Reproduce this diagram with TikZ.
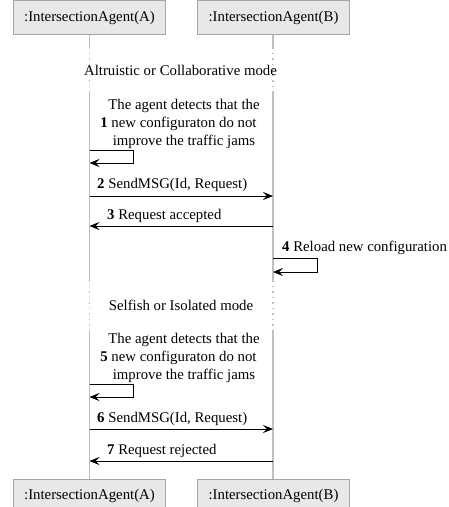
\documentclass[tikz,border=0pt]{standalone}
\usepackage{fontspec}
\setmainfont{Liberation Serif}
\usetikzlibrary{arrows.meta, positioning}
\definecolor{cajaGris}{RGB}{232,232,232}
\definecolor{bordeGris}{RGB}{165,165,165}
\definecolor{vidaGris}{RGB}{192,192,192}

\begin{document}
\begin{tikzpicture}[
    x=1pt, y=-1pt,
    font=\fontsize{14.8}{18}\selectfont,
    agente/.style={draw=bordeGris, fill=cajaGris, minimum width=152pt, minimum height=34pt, inner sep=0pt},
    vida/.style={vidaGris, line width=1.2pt},
    vidaPunto/.style={vidaGris, line width=1.2pt, dash pattern=on 1.5pt off 4pt},
    mensaje/.style={-{Stealth[length=10pt, width=8pt, inset=4pt]}, line width=0.9pt},
    etiqueta/.style={anchor=west, inner sep=0pt},
    nota/.style={align=center, inner sep=0pt}
]
    \useasboundingbox (0,0) rectangle (448,507);

    % --- AGENTES ---
    \node[agente] (agA) at (89.5,17.5) {:IntersectionAgent(A)};
    \node[agente] (agB) at (273.5,17.5) {:IntersectionAgent(B)};
    \node[agente] (agAbajo) at (89.5,496) {:IntersectionAgent(A)};
    \node[agente] (agBbajo) at (273.5,496) {:IntersectionAgent(B)};

    % --- LINEAS DE VIDA ---
    \coordinate (a1) at (89.5,47);  \coordinate (b1) at (273,47);
    \coordinate (a2) at (89.5,93);  \coordinate (b2) at (273,93);
    \coordinate (a3) at (89.5,280); \coordinate (b3) at (273,280);
    \coordinate (a4) at (89.5,330); \coordinate (b4) at (273,330);
    \draw[vida] (agA) -- (a1);
    \draw[vidaPunto] (a1) -- (a2);
    \draw[vida] (a2) -- (a3);
    \draw[vidaPunto] (a3) -- (a4);
    \draw[vida] (a4) -- (agAbajo);
    \draw[vida] (agB.south -| b1) -- (b1);
    \draw[vidaPunto] (b1) -- (b2);
    \draw[vida] (b2) -- (b3);
    \draw[vidaPunto] (b3) -- (b4);
    \draw[vida] (b4) -- (agBbajo.north -| b4);

    % --- MODO ALTRUISTA ---
    \node (modo1) at (180.5,70) {Altruistic or Collaborative mode};
    \node[nota] (nota1) at (184,123.5) {The agent detects that the\\
        \llap{\textbf{1} }new configuraton do not\\ improve the traffic jams};
    \coordinate (l1i) at (89.5,150); \coordinate (l1f) at (89.5,163);
    \draw[mensaje] (l1i) -- ++(43.5,0) |- (l1f);

    \coordinate (m2a) at (89.5,196); \coordinate (m2b) at (273,196);
    \draw[mensaje] (m2a) -- (m2b);
    \node[etiqueta] (et2) at (97,185) {\textbf{2} SendMSG(Id, Request)};

    \coordinate (m3a) at (89.5,226); \coordinate (m3b) at (273,226);
    \draw[mensaje] (m3b) -- (m3a);
    \node[etiqueta] (et3) at (107,216) {\textbf{3} Request accepted};

    \coordinate (l4i) at (273,258); \coordinate (l4f) at (273,272);
    \draw[mensaje] (l4i) -- ++(44,0) |- (l4f);
    \node[etiqueta] (et4) at (282,248) {\textbf{4} Reload new configuration};

    % --- MODO EGOISTA ---
    \node (modo2) at (181,305) {Selfish or Isolated mode};
    \node[nota] (nota5) at (184,358) {The agent detects that the\\
        \llap{\textbf{5} }new configuraton do not\\ improve the traffic jams};
    \coordinate (l5i) at (89.5,384); \coordinate (l5f) at (89.5,397);
    \draw[mensaje] (l5i) -- ++(43.5,0) |- (l5f);

    \coordinate (m6a) at (89.5,429); \coordinate (m6b) at (273,429);
    \draw[mensaje] (m6a) -- (m6b);
    \node[etiqueta] (et6) at (97,419) {\textbf{6} SendMSG(Id, Request)};

    \coordinate (m7a) at (89.5,461); \coordinate (m7b) at (273,461);
    \draw[mensaje] (m7b) -- (m7a);
    \node[etiqueta] (et7) at (107,451) {\textbf{7} Request rejected};

\end{tikzpicture}
\end{document}
